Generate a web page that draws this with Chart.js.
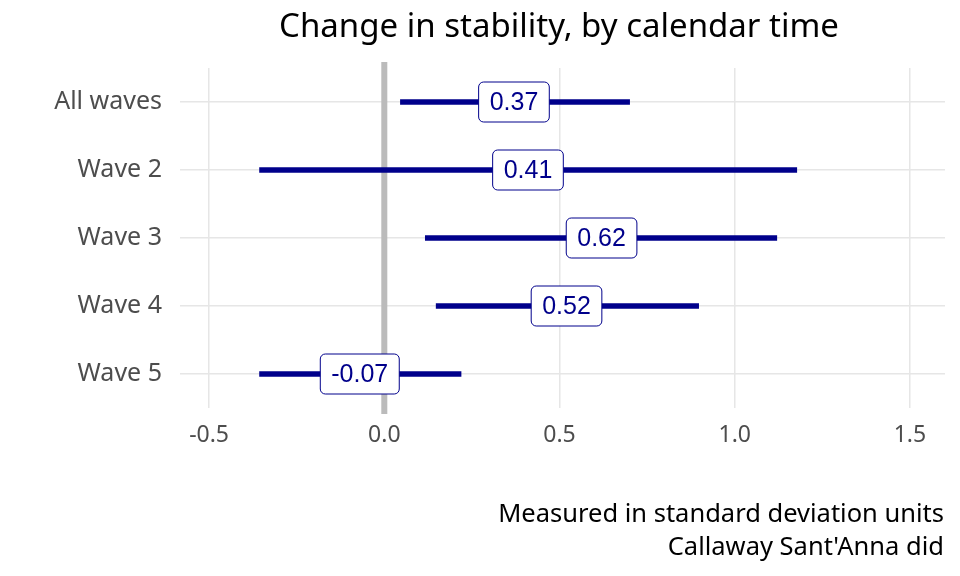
<!DOCTYPE html>
<html>
<head>
<meta charset="utf-8">
<script src="https://cdn.jsdelivr.net/npm/chart.js@4"></script>
<style>
  html, body { margin: 0; background: #fff; }
  #wrap { width: 960px; height: 576px; }
</style>
</head>
<body>
<div id="wrap"><canvas id="chart"></canvas></div>
<script>
const categories = ['All waves', 'Wave 2', 'Wave 3', 'Wave 4', 'Wave 5'];
const estimates = [0.37, 0.41, 0.62, 0.52, -0.07];
const lower = [0.046, -0.356, 0.117, 0.148, -0.356];
const upper = [0.70, 1.177, 1.12, 0.897, 0.219];
const xTicks = [-0.5, 0, 0.5, 1.0, 1.5];

const FONT = "'Noto Sans', Lato, sans-serif";
const NAVY = '#00008B';

const zeroLine = {
    id: 'zeroLine',
    beforeDatasetsDraw(chart) {
        const { ctx, chartArea, scales } = chart;
        const x = scales.x.getPixelForValue(0);
        ctx.save();
        ctx.fillStyle = '#bbbbbb';
        ctx.fillRect(x - 3, chartArea.top - 6, 6, chartArea.bottom - chartArea.top + 12);
        ctx.restore();
    },
};

const estimateLabels = {
    id: 'estimateLabels',
    afterDatasetsDraw(chart) {
        const { ctx, scales } = chart;
        ctx.save();
        ctx.font = '25px Arial, "Liberation Sans", sans-serif';
        ctx.textAlign = 'center';
        ctx.textBaseline = 'middle';
        estimates.forEach((v, i) => {
            const x = scales.x.getPixelForValue(v);
            const y = scales.y.getPixelForValue(i);
            const text = v.toFixed(2);
            const w = ctx.measureText(text).width + 22;
            const h = 40;
            ctx.beginPath();
            ctx.roundRect(x - w / 2, y - h / 2, w, h, 5);
            ctx.fillStyle = '#fff';
            ctx.fill();
            ctx.lineWidth = 1;
            ctx.strokeStyle = NAVY;
            ctx.stroke();
            ctx.fillStyle = NAVY;
            ctx.fillText(text, x, y + 1);
        });
        ctx.restore();
    },
};

const texts = {
    id: 'texts',
    afterDraw(chart) {
        const { ctx } = chart;
        ctx.save();
        ctx.fillStyle = '#000';
        ctx.font = '33px ' + FONT;
        ctx.textAlign = 'center';
        ctx.textBaseline = 'middle';
        ctx.fillText('Change in stability, by calendar time', 559, 28);
        ctx.font = '25.5px ' + FONT;
        ctx.textAlign = 'right';
        ctx.fillText('Measured in standard deviation units', 944, 515);
        ctx.fillText("Callaway Sant'Anna did", 944, 548);
        ctx.restore();
    },
};

new Chart(document.getElementById('chart'), {
    type: 'bar',
    data: {
        labels: categories,
        datasets: [{
            data: lower.map((lo, i) => [lo, upper[i]]),
            backgroundColor: NAVY,
            barThickness: 5,
            borderSkipped: false,
        }],
    },
    plugins: [zeroLine, estimateLabels, texts],
    options: {
        indexAxis: 'y',
        responsive: true,
        maintainAspectRatio: false,
        animation: false,
        layout: { padding: { top: 68, right: 15, bottom: 118, left: 0 } },
        plugins: { legend: { display: false }, tooltip: { enabled: false } },
        scales: {
            x: {
                min: -0.583,
                max: 1.6,
                afterBuildTicks(axis) { axis.ticks = xTicks.map((v) => ({ value: v })); },
                afterFit(axis) { axis.height = 50; },
                border: { display: false },
                grid: { color: '#e6e6e6', lineWidth: 1.5, drawTicks: false },
                ticks: {
                    padding: 14,
                    color: '#4d4d4d',
                    font: { family: FONT, size: 23 },
                    callback: (v) => Number(v).toFixed(1),
                },
            },
            y: {
                afterFit(axis) { axis.width = 180; },
                border: { display: false },
                grid: { color: '#e6e6e6', lineWidth: 1.5, drawTicks: false, offset: false },
                ticks: {
                    padding: 18,
                    color: '#4d4d4d',
                    font: { family: FONT, size: 25 },
                },
            },
        },
    },
});
</script>
</body>
</html>
